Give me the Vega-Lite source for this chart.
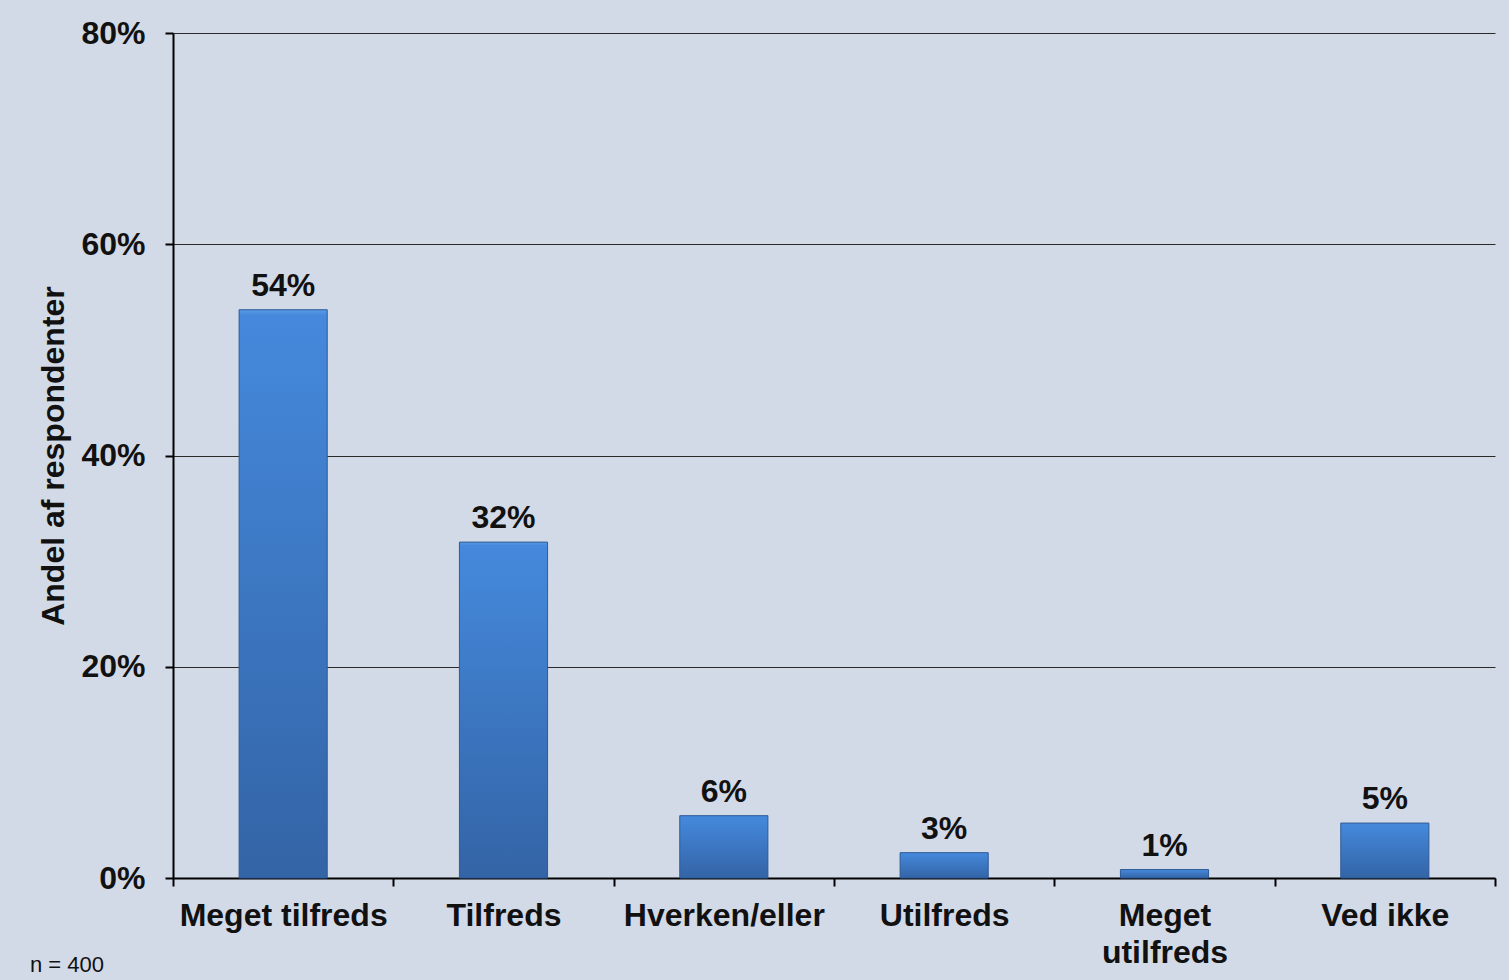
{
  "$schema": "https://vega.github.io/schema/vega-lite/v6.json",
  "width": 1322,
  "height": 845,
  "autosize": {"type": "none"},
  "padding": {"left": 173, "top": 33, "right": 14, "bottom": 102},
  "background": "#D3DAE7",
  "config": {
    "view": {"stroke": null},
    "font": "Liberation Sans"
  },
  "title": {
    "text": "n = 400",
    "orient": "bottom",
    "anchor": "start",
    "frame": "group",
    "dx": -143,
    "offset": -13,
    "fontSize": 22,
    "fontWeight": "normal",
    "color": "#111111",
    "font": "Liberation Sans"
  },
  "data": {
    "values": [
      {"kategori": "Meget tilfreds", "andel": 0.538, "etiket": "54%"},
      {"kategori": "Tilfreds", "andel": 0.318, "etiket": "32%"},
      {"kategori": "Hverken/eller", "andel": 0.059, "etiket": "6%"},
      {"kategori": "Utilfreds", "andel": 0.024, "etiket": "3%"},
      {"kategori": "Meget utilfreds", "andel": 0.008, "etiket": "1%"},
      {"kategori": "Ved ikke", "andel": 0.052, "etiket": "5%"}
    ]
  },
  "encoding": {
    "x": {
      "field": "kategori",
      "type": "nominal",
      "sort": null,
      "scale": {"paddingInner": 0, "paddingOuter": 0},
      "axis": {
        "title": null,
        "labelAngle": 0,
        "labelFontSize": 32,
        "labelFontWeight": "bold",
        "labelColor": "#111111",
        "labelPadding": 14,
        "labelLimit": 0,
        "labelLineHeight": 37,
        "labelExpr": "datum.value == 'Meget utilfreds' ? ['Meget', 'utilfreds'] : datum.value",
        "tickBand": "extent",
        "tickSize": 8,
        "tickColor": "#000000",
        "tickWidth": 2,
        "domainColor": "#000000",
        "domainWidth": 2,
        "grid": false
      }
    },
    "y": {
      "field": "andel",
      "type": "quantitative",
      "scale": {"domain": [0, 0.8]},
      "axis": {
        "title": "Andel af respondenter",
        "titleFontSize": 32,
        "titleFontWeight": "bold",
        "titleColor": "#111111",
        "titlePadding": 10,
        "format": ".0%",
        "values": [0, 0.2, 0.4, 0.6, 0.8],
        "labelFontSize": 32,
        "labelFontWeight": "bold",
        "labelColor": "#111111",
        "labelPadding": 20,
        "tickSize": 8,
        "tickColor": "#000000",
        "tickWidth": 2,
        "domainColor": "#000000",
        "domainWidth": 2,
        "grid": true,
        "gridColor": "#2a2a2a",
        "gridWidth": 1
      }
    }
  },
  "layer": [
    {
      "mark": {
        "type": "bar",
        "width": {"band": 0.4},
        "stroke": "#2E5A96",
        "strokeWidth": 1,
        "fill": {
          "gradient": "linear",
          "x1": 0, "y1": 0, "x2": 0, "y2": 1,
          "stops": [
            {"offset": 0, "color": "#5A9AE6"},
            {"offset": 0.01, "color": "#4589DC"},
            {"offset": 1, "color": "#3364A6"}
          ]
        }
      }
    },
    {
      "mark": {
        "type": "text",
        "baseline": "alphabetic",
        "dy": -14,
        "fontSize": 32,
        "fontWeight": "bold",
        "color": "#111111"
      },
      "encoding": {"text": {"field": "etiket"}}
    }
  ]
}
